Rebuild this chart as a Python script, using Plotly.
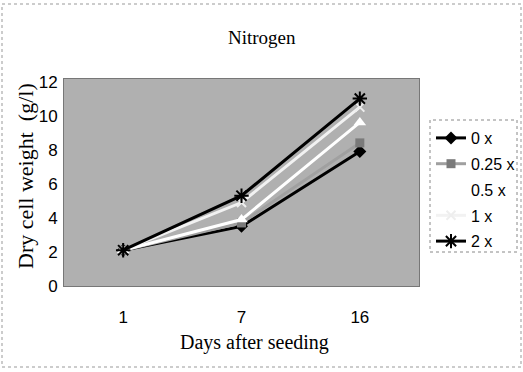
import plotly.graph_objects as go

days = ['1', '7', '16']
series_names = ['0 x', '0.25 x', '0.5 x', '1 x', '2 x']
n_0x = [2.1, 3.5, 7.9]
n_025x = [2.1, 3.7, 8.4]
n_05x = [2.1, 3.9, 9.6]
n_1x = [2.1, 4.9, 10.5]
n_2x = [2.1, 5.3, 11.0]
y_ticks = [0, 2, 4, 6, 8, 10, 12]

values = [n_0x, n_025x, n_05x, n_1x, n_2x]
styles = [
    dict(line=dict(color='black', width=3), marker=dict(symbol='diamond', size=10, color='black')),
    dict(line=dict(color='#a0a0a0', width=3), marker=dict(symbol='square', size=9, color='#7a7a7a')),
    dict(line=dict(color='white', width=3), marker=dict(symbol='triangle-up', size=11, color='white')),
    dict(line=dict(color='#f2f2f2', width=3), marker=dict(symbol='x-thin-open', size=9, color='#eeeeee', line=dict(width=2, color='#eeeeee'))),
    dict(line=dict(color='black', width=3), marker=dict(symbol='asterisk-open', size=12, color='black', line=dict(width=2, color='black'))),
]

fig = go.Figure()
for i, (name, vals, st) in enumerate(zip(series_names, values, styles)):
    fig.add_trace(go.Scatter(x=days, y=vals, name=name, mode='lines+markers',
                             legendgroup='g%d' % i, **st))

L, R, T, B = 64, 104, 79, 86
W, H = 523, 372
pw, ph = W - L - R, H - T - B


def px_x(p):
    return (p - L) / pw


def px_y(p):
    return (H - B - p) / ph


serif = 'Liberation Serif'
sans = 'Liberation Sans'

fig.update_layout(
    width=W, height=H,
    margin=dict(l=L, r=R, t=T, b=B, autoexpand=False),
    paper_bgcolor='white',
    plot_bgcolor='#b0b0b0',
    xaxis=dict(type='category', range=[-0.5, 2.5], showgrid=False, zeroline=False, ticks='',
               showline=True, mirror=True, linecolor='#777777', linewidth=1,
               tickfont=dict(family=sans, size=17, color='black'),
               ticklabelstandoff=16),
    yaxis=dict(range=[0, 12.15], tickvals=y_ticks, showgrid=False, zeroline=False, ticks='',
               showline=True, mirror=True, linecolor='#777777', linewidth=1,
               tickfont=dict(family=sans, size=17, color='black'),
               ticklabelstandoff=2),
    legend=dict(x=px_x(431), xanchor='left', y=px_y(121), yanchor='top',
                bgcolor='rgba(0,0,0,0)', borderwidth=0,
                font=dict(family=sans, size=16, color='black'),
                itemwidth=30, tracegroupgap=2),
    showlegend=True,
    annotations=[
        dict(text='Nitrogen', xref='paper', yref='paper', x=px_x(262), y=px_y(37),
             xanchor='center', yanchor='middle', showarrow=False,
             font=dict(family=serif, size=19, color='black')),
        dict(text='Days after seeding', xref='paper', yref='paper', x=px_x(255), y=px_y(342),
             xanchor='center', yanchor='middle', showarrow=False,
             font=dict(family=serif, size=20, color='black')),
        dict(text='Dry cell weight  (g/l)', xref='paper', yref='paper', x=px_x(25), y=px_y(176),
             xanchor='center', yanchor='middle', showarrow=False, textangle=-90,
             font=dict(family=serif, size=22, color='black')),
    ],
    shapes=[
        dict(type='rect', xref='paper', yref='paper',
             x0=px_x(2), x1=px_x(521), y0=px_y(367), y1=px_y(4),
             line=dict(color='#999999', width=1, dash='dot')),
        dict(type='rect', xref='paper', yref='paper',
             x0=px_x(430), x1=px_x(517), y0=px_y(252), y1=px_y(120),
             line=dict(color='#888888', width=1, dash='dot')),
    ],
)

fig.write_html('out.html')
